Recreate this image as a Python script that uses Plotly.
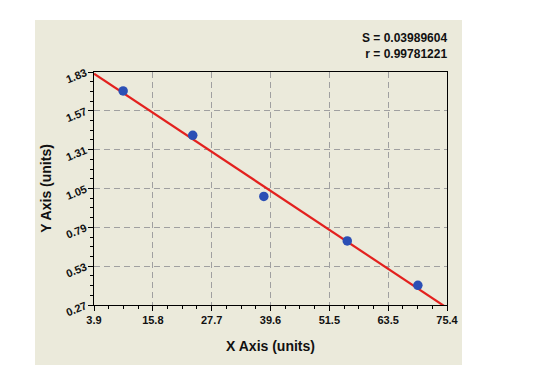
import numpy as np
import plotly.graph_objects as go

# data
x_vals = [9.8, 23.9, 38.3, 55.2, 69.5]
y_vals = [1.703, 1.406, 0.997, 0.699, 0.402]
x_ticks = [3.9, 15.817, 27.733, 39.65, 51.567, 63.483, 75.4]
x_labels = ["3.9", "15.8", "27.7", "39.6", "51.5", "63.5", "75.4"]
y_ticks = [0.27, 0.53, 0.79, 1.05, 1.31, 1.57, 1.83]
y_labels = ["0.27", "0.53", "0.79", "1.05", "1.31", "1.57", "1.83"]
stat_lines = ["S = 0.03989604", "r = 0.99781221"]

slope, intercept = np.polyfit(x_vals, y_vals, 1)
fx = [3.9, 80.0]
fy = [slope * v + intercept for v in fx]

font = "Liberation Sans, Arial, sans-serif"

fig = go.Figure()
fig.add_trace(go.Scatter(x=fx, y=fy, mode="lines",
                         line=dict(color="#e3211e", width=2.2),
                         hoverinfo="skip", showlegend=False))
fig.add_trace(go.Scatter(x=x_vals, y=y_vals, mode="markers",
                         marker=dict(color="#2b4fb5", size=9.5,
                                     line=dict(width=0)),
                         showlegend=False))

L, R, T, B = 86, 108, 64, 71
pw, ph = 547 - L - R, 368 - T - B

fig.add_shape(type="rect", xref="paper", yref="paper", layer="below",
              x0=(27 - L) / pw, x1=(454 - L) / pw,
              y0=-(357 - (368 - B)) / ph, y1=1 + (T - 12) / ph,
              fillcolor="#ebeadb", line=dict(width=0))

fig.add_annotation(xref="paper", yref="paper",
                   x=(441 - L) / pw, y=1 + (T - 38) / ph,
                   xanchor="right", yanchor="middle", showarrow=False,
                   align="right",
                   text="<b>" + stat_lines[0] + "</b><br><b>" + stat_lines[1] + "</b>",
                   font=dict(family=font, size=12, color="#111"))

axis_common = dict(showline=True, linecolor="black", linewidth=1.2, mirror=True,
                   ticks="outside", ticklen=5, tickcolor="black",
                   showgrid=True, gridcolor="#a0a0a0", griddash="6px,4px", gridwidth=1,
                   zeroline=False,
                   tickfont=dict(family=font, size=11, color="#111"))

fig.update_xaxes(range=[3.9, 75.4], tickvals=x_ticks, ticktext=["<b>%s</b>" % t for t in x_labels],
                 minor=dict(ticks="outside", ticklen=3, tickcolor="black",
                            tick0=3.9, dtick=71.5 / 24, showgrid=False),
                 title=dict(text="<b>X Axis (units)</b>", font=dict(family=font, size=14, color="#111"),
                            standoff=15),
                 **axis_common)
fig.update_yaxes(range=[0.27, 1.83], tickvals=y_ticks, ticktext=["<b>%s</b>" % t for t in y_labels],
                 tickangle=-22,
                 minor=dict(ticks="outside", ticklen=3, tickcolor="black",
                            tick0=0.27, dtick=0.065, showgrid=False),
                 title=dict(text="<b>Y Axis (units)</b>", font=dict(family=font, size=14, color="#111"),
                            standoff=9),
                 **axis_common)

fig.update_layout(width=547, height=368, margin=dict(l=L, r=R, t=T, b=B, autoexpand=False),
                  paper_bgcolor="white", plot_bgcolor="white")

fig.write_html("out.html")
